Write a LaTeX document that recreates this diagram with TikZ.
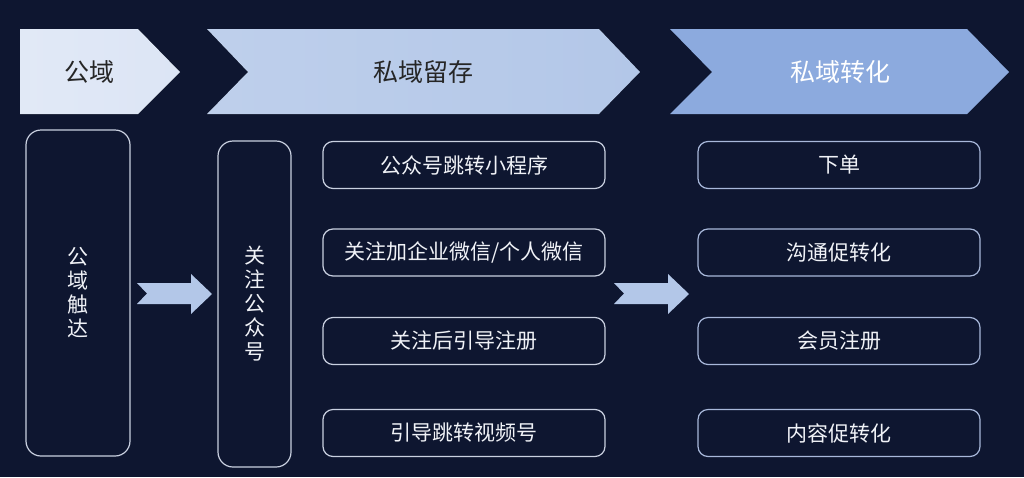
\documentclass[tikz,border=0pt]{standalone}
\usepackage{fontspec}
\newfontfamily\cjk{Noto Sans CJK SC}
\definecolor{bg}{HTML}{0E1630}
\definecolor{stageA}{HTML}{DCE5F5}
\definecolor{stageB}{HTML}{B3C7E8}
\definecolor{stageC}{HTML}{8CAADE}
\definecolor{edgeA}{HTML}{C9D0E0}
\definecolor{edgeB}{HTML}{A8B8DA}
\definecolor{ink}{HTML}{F0F2F7}
\tikzset{
  stagetext/.style={font=\cjk\fontsize{25}{29}\selectfont},
  tallbox/.style={draw=edgeA, line width=1.2pt, rounded corners=15pt, text=ink,
    align=center, font=\cjk\fontsize{21}{24}\selectfont},
  itembox/.style={draw=#1, line width=1.2pt, rounded corners=10pt, text=ink,
    minimum width=282, minimum height=47, font=\cjk\fontsize{21}{25}\selectfont},
  flowarrow/.style={fill=stageB}
}

\begin{document}
\begin{tikzpicture}[x=1pt,y=-1pt]
    \fill[bg] (0,0) rectangle (1024,477);
    \useasboundingbox (0,0) rectangle (1024,477);
    % stages
    \fill[left color=stageA!85!white, right color=stageA]
      (20,29) -- (138,29) -- (180,72) -- (138,114) -- (20,114) -- cycle;
    \fill[left color=stageB!85!white, right color=stageB]
      (207,29) -- (599,29) -- (640,72) -- (599,114) -- (207,114) -- (248,72) -- cycle;
    \fill[stageC]
      (670,29) -- (967,29) -- (1009,72) -- (967,114) -- (670,114) -- (712,72) -- cycle;
    \node[stagetext, text=black!85] (pub) at (89,72) {公域};
    \node[stagetext, text=black!85] (keep) at (423,72) {私域留存};
    \node[stagetext, text=white] (conv) at (840,72) {私域转化};
    % left columns
    \node[tallbox, minimum width=104, minimum height=326] (reach) at (78,293)
      {公\\域\\触\\达};
    \node[tallbox, minimum width=73, minimum height=326] (follow) at (254.5,304)
      {关\\注\\公\\众\\号};
    % items
    \foreach \y/\n/\t in {165/a/公众号跳转小程序, 252.5/b/{关注加企业微信/个人微信},
                          341/c/关注后引导注册, 433/d/引导跳转视频号}
    {
      \node[itembox=edgeA] (mid\n) at (464,\y) {\t};
    }
    \foreach \y/\n/\t in {165/a/下单, 252.5/b/沟通促转化, 341/c/会员注册, 433/d/内容促转化}
    {
      \node[itembox=edgeB] (out\n) at (839,\y) {\t};
    }
    % arrows
    \begin{scope}
      \fill[flowarrow] (137,283) -- (191,283) -- (191,274) -- (212,294)
        -- (191,314) -- (191,304) -- (137,304) -- (147,293.5) -- cycle;
    \end{scope}
    \begin{scope}[xshift=477pt]
      \fill[flowarrow] (137,283) -- (191,283) -- (191,274) -- (212,294)
        -- (191,314) -- (191,304) -- (137,304) -- (147,293.5) -- cycle;
    \end{scope}
\end{tikzpicture}
\end{document}
